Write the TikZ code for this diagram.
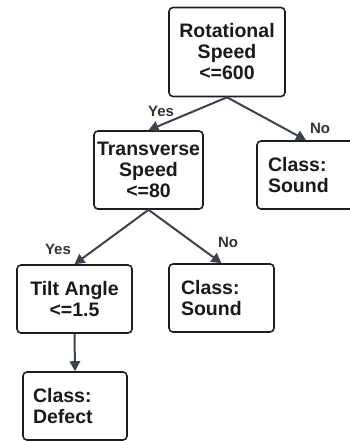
\documentclass[tikz,border=0pt]{standalone}
\usepackage{fontspec}
\setmainfont{Liberation Sans}
\usetikzlibrary{arrows.meta}
\definecolor{edgecol}{HTML}{3C4350}
\definecolor{boxline}{HTML}{1E1E1E}
\definecolor{txtcol}{HTML}{1A1A1A}
\definecolor{lblcol}{HTML}{333333}
\begin{document}
\begin{tikzpicture}[x=1pt,y=-1pt,
  box/.style={draw=boxline, line width=1.6pt, rounded corners=4pt, fill=white,
    font=\fontsize{19.5}{21}\selectfont\bfseries, text=txtcol, inner sep=0pt},
  cbox/.style={box, align=center},
  lbox/.style={box, align=left},
  edge/.style={draw=edgecol, line width=2pt, -{Triangle[length=10pt,width=10.5pt]}},
  lbl/.style={font=\fontsize{15}{16}\selectfont\bfseries, text=lblcol, inner sep=0pt}]
\clip (0,0) rectangle (350,441);
\useasboundingbox (0,0) rectangle (350,441);
\node[cbox, minimum width=116pt, minimum height=89pt] (root) at (227,52) {Rotational\\Speed\\<=600};
\node[cbox, minimum width=109pt, minimum height=78pt] (trans) at (148.5,170) {Transverse\\Speed\\<=80};
\node[lbox, minimum width=98pt, minimum height=68pt, text width=76pt] (sound1) at (306,175) {Class:\\Sound};
\node[cbox, minimum width=115pt, minimum height=68pt] (tilt) at (74.5,299) {Tilt Angle\\<=1.5};
\node[lbox, minimum width=105pt, minimum height=68pt, text width=81pt] (sound2) at (221.5,298) {Class:\\Sound};
\node[lbox, minimum width=104pt, minimum height=68pt, text width=84pt] (defect) at (75,406) {Class:\\Defect};
\draw[edge] (root.south) -- (trans.north);
\draw[edge] (root.south) -- (sound1.north);
\draw[edge] (trans.south) -- (tilt.north);
\draw[edge] (trans.south) -- (sound2.north);
\draw[edge] (tilt.south) -- (defect.north);
\node[lbl] (yes1) at (161,111) {Yes};
\node[lbl] (no1) at (320,128) {No};
\node[lbl] (yes2) at (58,249) {Yes};
\node[lbl] (no2) at (228,242) {No};
\end{tikzpicture}
\end{document}
